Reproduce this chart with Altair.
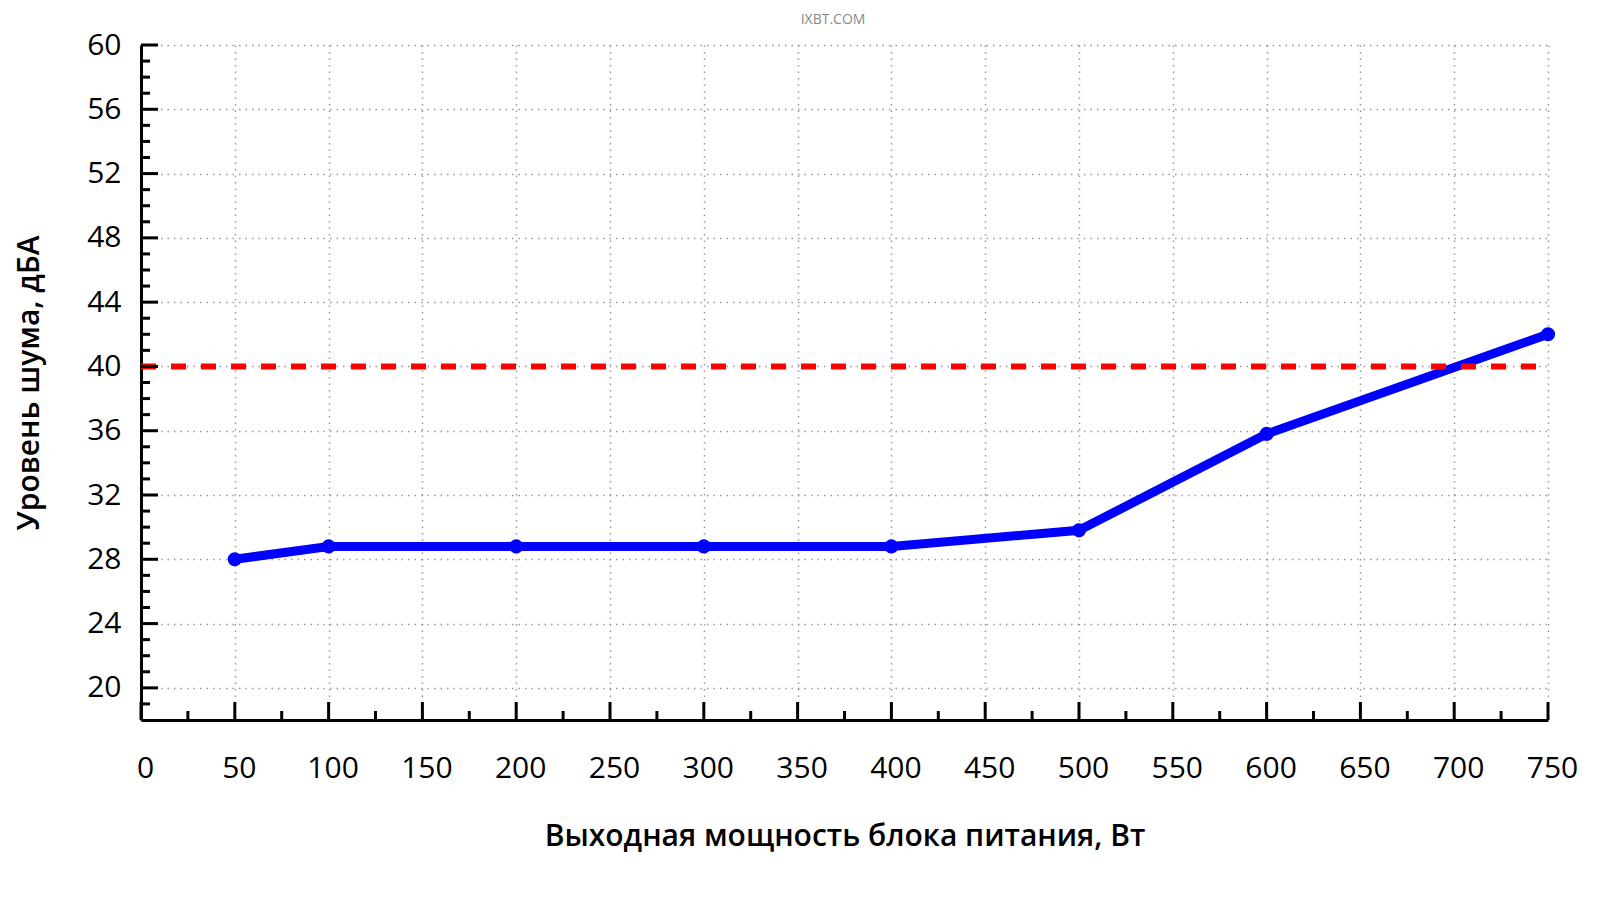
import altair as alt
import pandas as pd

# ---- data ----
power = [50, 100, 200, 300, 400, 500, 600, 750]
noise = [28.0, 28.8, 28.8, 28.8, 28.8, 29.8, 35.8, 42.0]
limit_power = [0, 750]
limit_noise = [40, 40]
x_major = list(range(0, 751, 50))
x_minor = list(range(25, 751, 50))
y_major = list(range(20, 61, 4))
y_minor = [v for v in range(19, 61) if v % 4 != 0]
watermark = ["IXBT.COM"]

W, H = 1407, 675
FONT = "Open Sans"

xs = alt.Scale(domain=[0, 750], nice=False, zero=False)
ys = alt.Scale(domain=[18, 60], nice=False, zero=False)

df = pd.DataFrame({"p": power, "n": noise})
df_lim = pd.DataFrame({"p": limit_power, "n": limit_noise})

X_TITLE = "Выходная мощность блока питания, Вт"
Y_TITLE = "Уровень шума, дБА"

x_axis = alt.Axis(
    values=x_major, grid=True, gridColor="#999999", gridDash=[1.5, 5], gridWidth=1.5,
    ticks=False, domain=True, domainColor="black", domainWidth=3,
    labelFont=FONT, labelFontSize=30, labelColor="black", labelPadding=33, labelOffset=4,
    labelFlush=False, labelOverlap=False,
    titleFont=FONT, titleFontSize=30,
    titleFontWeight=600, titleColor="black", titleX=W / 2, titleY=116,
    titleBaseline="middle", titleAlign="center",
)
y_axis = alt.Axis(
    values=y_major, grid=True, gridColor="#999999", gridDash=[1.5, 5], gridWidth=1.5,
    ticks=False, domain=True, domainColor="black", domainWidth=3,
    labelFont=FONT, labelFontSize=30, labelColor="black", labelPadding=20,
    labelFlush=False, labelOverlap=False, labelBaseline="middle",
    titleFont=FONT, titleFontSize=30,
    titleFontWeight=600, titleColor="black", titleX=-112, titleY=H / 2,
    titleBaseline="middle", titleAlign="center", titleAngle=270,
)


def X(field):
    return alt.X(field, scale=xs, axis=x_axis, title=X_TITLE)


def Y(field):
    return alt.Y(field, scale=ys, axis=y_axis, title=Y_TITLE)


line = alt.Chart(df).mark_line(color="#0000FF", strokeWidth=9).encode(
    x=X("p:Q"), y=Y("n:Q"),
)
pts = alt.Chart(df).mark_circle(color="#0000FF", size=200, opacity=1).encode(
    x=X("p:Q"), y=Y("n:Q"),
)
limit = alt.Chart(df_lim).mark_line(color="#FF0000", strokeWidth=6, strokeDash=[15, 15]).encode(
    x=X("p:Q"), y=Y("n:Q"),
)


def xticks(vals, length):
    return alt.Chart(pd.DataFrame({"p": vals})).mark_rule(color="black", strokeWidth=3).encode(
        x=X("p:Q"),
        y=alt.value(H),
        y2=alt.value(H - length),
    )


def yticks(vals, length):
    return alt.Chart(pd.DataFrame({"n": vals})).mark_rule(color="black", strokeWidth=3).encode(
        y=Y("n:Q"),
        x=alt.value(0),
        x2=alt.value(length),
    )


wm = alt.Chart(pd.DataFrame({"t": watermark})).mark_text(
    font=FONT, fontSize=14, color="#888888", baseline="middle", align="center"
).encode(text="t:N", x=alt.value(833 - 141), y=alt.value(20 - 45))

chart = alt.layer(
    line, pts, limit,
    xticks(x_major, 18), xticks(x_minor, 9),
    yticks(y_major, 17), yticks(y_minor, 9),
    wm,
).properties(
    width=W, height=H,
    autosize=alt.AutoSizeParams(type="none"),
    padding={"left": 133, "top": 37, "right": 40, "bottom": 160},
    background="white",
).configure_view(stroke=None)

chart.save("out.html", embed_options={"renderer": "svg", "actions": False})
